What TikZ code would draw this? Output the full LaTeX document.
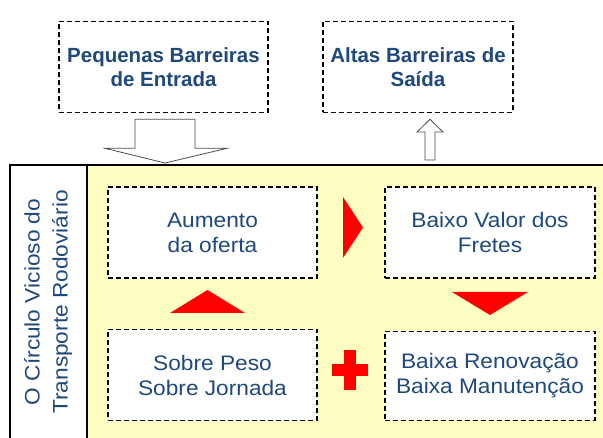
\documentclass[tikz,border=0pt]{standalone}
\usepackage{fontspec}
\setmainfont{Liberation Sans}
\newfontfamily\boxfont[FakeStretch=1.08]{Liberation Sans}
\usetikzlibrary{calc}
\definecolor{txtblue}{HTML}{1F497D}
\definecolor{panelyellow}{HTML}{FFFFC4}

\tikzset{
  dashbox/.style={draw=black, fill=white, line width=1.6pt, dash pattern=on 5pt off 3pt,
    minimum width=209pt, minimum height=91pt, align=center, text=txtblue,
    font=\boxfont\fontsize{21}{25}\selectfont, inner sep=0pt},
  topbox/.style={dashbox, font=\bfseries\fontsize{20.5}{24}\selectfont},
  redmark/.style={fill=red, draw=none},
  hollow/.style={draw=black!70, fill=white, line width=0.8pt, line join=miter}
}

\begin{document}
\begin{tikzpicture}[x=1pt, y=-1pt]
        \useasboundingbox (0,0) rectangle (603,438);

        % barriers on top
        \node[topbox] (pb) at (163.5,67) {Pequenas Barreiras\\de Entrada};
        \node[topbox, minimum width=190pt] (ab) at (418,67) {Altas Barreiras de\\Saída};

        % panel
        \filldraw[fill=panelyellow, draw=black, line width=1.8pt] (87,165) rectangle (615,450);
        \filldraw[fill=white, draw=black, line width=1.5pt] (10,165) rectangle (87,450);
        \coordinate (ptop) at (165,163);
        \coordinate (pup) at (430,160);
        \node[rotate=90, align=center, text=txtblue, font=\boxfont\fontsize{21}{28}\selectfont] (title)
            at (48,302) {O Círculo Vicioso do\\Transporte Rodoviário};

        % hollow arrows
        \filldraw[hollow] ($(pb.south)+(-28.5,6)$) -- ($(pb.south)+(31.5,6)$) -- ($(pb.south)+(31.5,35)$)
            -- ($(pb.south)+(63.5,35)$) -- (ptop) -- ($(pb.south)+(-58.5,35)$)
            -- ($(pb.south)+(-28.5,35)$) -- cycle;
        \filldraw[hollow] (pup) -- ++(5,0) -- ($(pup)+(5,-28)$) -- ($(pup)+(13,-28)$)
            -- ($(ab.south)+(12,6)$) -- ($(pup)+(-13,-28)$) -- ($(pup)+(-5,-28)$) -- ++(0,28) -- cycle;

        % the circle
        \node[dashbox] (ao) at (212.5,232.5) {Aumento\\da oferta};
        \node[dashbox, minimum width=210pt] (bv) at (490,232.5) {Baixo Valor dos\\Fretes};
        \node[dashbox] (sp) at (212.5,375) {Sobre Peso\\Sobre Jornada};
        \node[dashbox, minimum width=210pt, minimum height=89pt] (br) at (490,376) {Baixa Renovação\\Baixa Manutenção};

        % red marks
        \fill[redmark] (343,197) -- (363,227.5) -- (343,258) -- cycle;
        \fill[redmark] (452,292) -- (528,292) -- (490,315) -- cycle;
        \fill[redmark] (170,313) -- (245,313) -- (207.5,290) -- cycle;
        \fill[redmark] (332,364) rectangle (368,376);
        \fill[redmark] (344,350) rectangle (356,390);

        \end{tikzpicture}
\end{document}
